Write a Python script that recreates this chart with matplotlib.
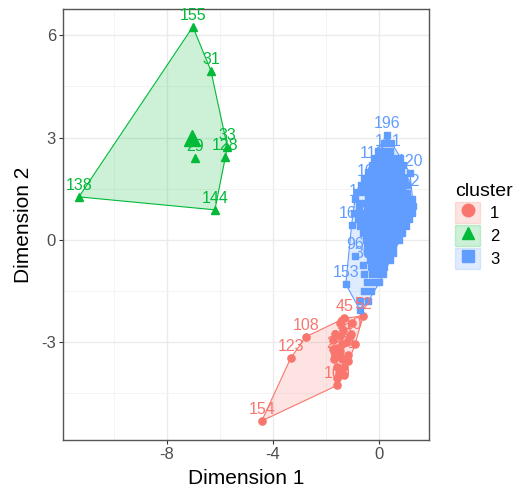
import matplotlib
matplotlib.use("Agg")
import matplotlib.pyplot as plt
from matplotlib.patches import Patch, Polygon
from matplotlib.lines import Line2D
from matplotlib.legend_handler import HandlerTuple
import numpy as np

plt.rcParams['font.family'] = ['Liberation Sans', 'DejaVu Sans']
plt.rcParams['axes.unicode_minus'] = False

# --- cluster 1 (red) ---
c1_ids = ["154", "123", "108", "100", "45", "52", "9", "110", "25", "28", "71", "8"]
c1_x = [-4.42, -3.33, -2.75, -1.58, -1.30, -0.59, -1.45, -1.10, -1.65, -1.50, -1.15, -1.20]
c1_y = [-5.31, -3.47, -2.84, -4.27, -2.30, -2.23, -2.82, -2.82, -3.37, -3.20, -3.37, -3.00]
c1_more_x = [-1.45, -1.00, -1.65, -1.35, -1.05, -1.75, -0.90, -1.75, -1.40,
             -1.70, -1.40, -1.15, -1.60, -1.30, -1.50, -1.30, -1.60]
c1_more_y = [-2.45, -2.45, -2.75, -2.65, -2.75, -2.95, -3.05, -3.20, -3.05,
             -3.50, -3.50, -3.55, -3.72, -3.72, -3.90, -3.95, -4.05]

# --- cluster 2 (green) ---
c2_ids = ["155", "31", "138", "144", "33", "128", "29"]
c2_x = [-7.02, -6.34, -11.32, -6.19, -5.72, -5.79, -6.94]
c2_y = [6.25, 4.96, 1.26, 0.88, 2.73, 2.44, 2.40]

# --- cluster 3 (blue) ---
c3_ids = ["196", "181", "118", "120", "162", "107", "101", "165", "96", "30", "153"]
c3_x = [0.29, 0.34, -0.25, 1.17, 1.05, -0.35, -0.65, -1.03, -0.90, -0.60, -1.25]
c3_y = [3.08, 2.55, 2.20, 1.96, 1.38, 1.67, 1.08, 0.44, -0.47, -0.73, -1.30]
c3_more = [
    (0.20, 2.85), (0.45, 2.85),
    (-0.05, 2.62), (0.20, 2.62), (0.42, 2.62),
    (-0.20, 2.40), (0.05, 2.40), (0.30, 2.40), (0.55, 2.40), (0.78, 2.40),
    (-0.08, 2.20), (0.17, 2.20), (0.42, 2.20), (0.67, 2.20), (0.90, 2.20),
    (-0.42, 2.00), (-0.18, 2.00), (0.07, 2.00), (0.32, 2.00), (0.57, 2.00), (0.82, 2.00),
    (-0.55, 1.80), (-0.30, 1.80), (-0.05, 1.80), (0.20, 1.80), (0.45, 1.80), (0.70, 1.80), (0.95, 1.80),
    (-0.68, 1.60), (-0.43, 1.60), (-0.18, 1.60), (0.07, 1.60), (0.32, 1.60), (0.57, 1.60), (0.82, 1.60), (1.07, 1.60),
    (-0.82, 1.40), (-0.57, 1.40), (-0.32, 1.40), (-0.07, 1.40), (0.18, 1.40), (0.43, 1.40), (0.68, 1.40), (0.88, 1.40),
    (-0.90, 1.20), (-0.40, 1.20), (-0.15, 1.20), (0.10, 1.20), (0.35, 1.20), (0.60, 1.20), (0.85, 1.20), (1.10, 1.20), (1.25, 1.20),
    (-0.75, 1.00), (-0.45, 1.00), (-0.20, 1.00), (0.05, 1.00), (0.30, 1.00), (0.55, 1.00), (0.80, 1.00), (1.05, 1.00), (1.30, 1.00),
    (-0.95, 0.80), (-0.70, 0.80), (-0.45, 0.80), (-0.20, 0.80), (0.05, 0.80), (0.30, 0.80), (0.55, 0.80), (0.80, 0.80), (1.05, 0.80), (1.25, 0.80),
    (-0.80, 0.60), (-0.55, 0.60), (-0.30, 0.60), (-0.05, 0.60), (0.20, 0.60), (0.45, 0.60), (0.70, 0.60), (0.95, 0.60), (1.15, 0.60),
    (-0.70, 0.40), (-0.45, 0.40), (-0.20, 0.40), (0.05, 0.40), (0.30, 0.40), (0.55, 0.40), (0.80, 0.40), (1.02, 0.40),
    (-0.60, 0.20), (-0.35, 0.20), (-0.10, 0.20), (0.15, 0.20), (0.40, 0.20), (0.65, 0.20), (0.88, 0.20),
    (-0.50, 0.00), (-0.25, 0.00), (0.00, 0.00), (0.25, 0.00), (0.50, 0.00), (0.75, 0.00),
    (-0.45, -0.20), (-0.20, -0.20), (0.05, -0.20), (0.30, -0.20), (0.55, -0.20),
    (-0.40, -0.40), (-0.15, -0.40), (0.10, -0.40), (0.35, -0.40), (0.55, -0.40),
    (-0.35, -0.60), (-0.10, -0.60), (0.15, -0.60), (0.40, -0.60),
    (-0.30, -0.80), (-0.05, -0.80), (0.20, -0.80),
    (-0.55, -1.00), (-0.25, -1.00), (0.00, -1.00), (0.15, -1.00),
    (-0.45, -1.25), (-0.20, -1.25), (0.02, -1.25),
    (-0.55, -1.50), (-0.30, -1.50),
    (-0.70, -1.80), (-0.40, -1.80),
    (-0.72, -2.05),
]

colors = ["#F8766D", "#00BA38", "#619CFF"]
markers = ["o", "^", "s"]
msizes = [5.2, 6.2, 5.0]


def convex_hull(px, py):
    pts = sorted(set(zip(px, py)))

    def cross(o, a, b):
        return (a[0] - o[0]) * (b[1] - o[1]) - (a[1] - o[1]) * (b[0] - o[0])

    lower, upper = [], []
    for p in pts:
        while len(lower) >= 2 and cross(lower[-2], lower[-1], p) <= 0:
            lower.pop()
        lower.append(p)
    for p in reversed(pts):
        while len(upper) >= 2 and cross(upper[-2], upper[-1], p) <= 0:
            upper.pop()
        upper.append(p)
    return np.array(lower[:-1] + upper[:-1])


groups = [
    (c1_ids, c1_x + c1_more_x, c1_y + c1_more_y),
    (c2_ids, c2_x, c2_y),
    (c3_ids, c3_x + [p[0] for p in c3_more], c3_y + [p[1] for p in c3_more]),
]

fig = plt.figure(figsize=(5.22, 4.92), dpi=100)
ax = fig.add_axes([63 / 522, 1 - 440 / 492, 366 / 522, 431 / 492])

# convex hull of each cluster
for k, (ids, gx, gy) in enumerate(groups):
    hull = convex_hull(gx, gy)
    ax.add_patch(Polygon(hull, closed=True, facecolor=colors[k], alpha=0.2,
                         edgecolor="none", zorder=2))
    ax.add_patch(Polygon(hull, closed=True, facecolor="none",
                         edgecolor=colors[k], lw=0.8, zorder=2.1))

for k, (ids, gx, gy) in enumerate(groups):
    ax.plot(gx, gy, ls="none", marker=markers[k], ms=msizes[k],
            color=colors[k], mec=colors[k], zorder=3)
    for i, lab in enumerate(ids):
        ax.annotate(lab, (gx[i], gy[i]), xytext=(0, 5), textcoords="offset points",
                    ha="center", va="baseline", fontsize=11.5, color=colors[k], zorder=4)
    # cluster centre
    ax.plot([np.mean(gx)], [np.mean(gy)], ls="none", marker=markers[k],
            ms=msizes[k] * 1.8, color=colors[k], zorder=5)

ax.set_xlim(-11.92, 1.89)
ax.set_ylim(-5.87, 6.77)
ax.set_xticks([-8, -4, 0])
ax.set_xticks([-10, -6, -2], minor=True)
ax.set_yticks([-3, 0, 3, 6])
ax.set_yticks([-4.5, -1.5, 1.5, 4.5], minor=True)
ax.grid(which="major", color="#EBEBEB", lw=1.0, zorder=0)
ax.grid(which="minor", color="#F3F3F3", lw=0.6, zorder=0)
ax.set_axisbelow(True)
ax.tick_params(which="major", length=3, width=0.8, color="#333333",
               labelcolor="#4D4D4D", labelsize=12, pad=2)
ax.tick_params(which="minor", length=0)
for s in ax.spines.values():
    s.set_color("#555555")
    s.set_linewidth(1.0)

ax.set_xlabel("Dimension 1", fontsize=15, labelpad=5)
ax.set_ylabel("Dimension 2", fontsize=15, labelpad=6)

handles = [(Patch(facecolor=colors[k], alpha=0.2, edgecolor=colors[k]),
            Line2D([], [], ls="none", marker=markers[k], ms=9, color=colors[k]))
           for k in range(3)]
leg = fig.legend(handles, ["1", "2", "3"], title="cluster",
                 handler_map={tuple: HandlerTuple(ndivide=1)},
                 loc="center left", bbox_to_anchor=(455 / 522, 1 - 226 / 492),
                 frameon=False, fontsize=12, title_fontsize=14,
                 handlelength=1.5, handleheight=1.6, labelspacing=0.1,
                 handletextpad=0.6, borderpad=0, borderaxespad=0,
                 alignment="left")

fig.savefig("out.png", dpi=100)
